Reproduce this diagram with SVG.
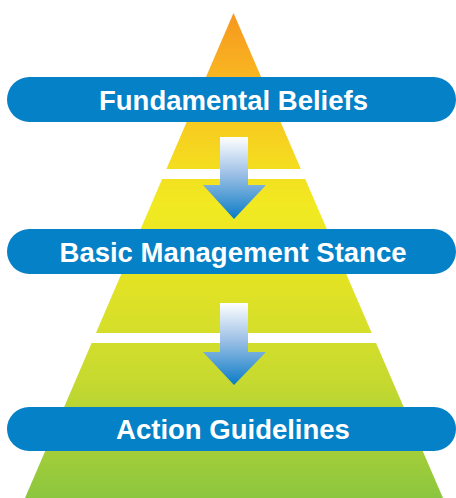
<svg xmlns="http://www.w3.org/2000/svg" width="456" height="498" viewBox="0 0 456 498">
  <defs>
    <linearGradient id="pyr" gradientUnits="userSpaceOnUse" x1="0" y1="13" x2="0" y2="498">
      <stop offset="0" stop-color="#F6961F"/>
      <stop offset="0.14" stop-color="#F9B921"/>
      <stop offset="0.3" stop-color="#F5DA1F"/>
      <stop offset="0.4" stop-color="#F1EA22"/>
      <stop offset="0.55" stop-color="#E3E324"/>
      <stop offset="0.75" stop-color="#C8DA2F"/>
      <stop offset="1" stop-color="#8CC63F"/>
    </linearGradient>
    <linearGradient id="arr" x1="0" y1="0" x2="0" y2="1">
      <stop offset="0" stop-color="#FFFFFF"/>
      <stop offset="0.45" stop-color="#9DC0E6"/>
      <stop offset="1" stop-color="#0A7CC6"/>
    </linearGradient>
  </defs>
  <style>
    .bar { fill: #0581C7; }
    .lbl { font-family: "Liberation Sans", Arial, sans-serif; font-weight: bold; font-size: 27.5px; fill: #FFFFFF; text-anchor: middle; }
    .arrow { fill: url(#arr); }
  </style>
  <rect x="0" y="0" width="456" height="498" fill="#FFFFFF"/>
  <g id="pyramid">
    <polygon points="233.5,13 443,498 25,498" fill="url(#pyr)"/>
    <rect x="0" y="169" width="456" height="10" fill="#FFFFFF"/>
    <rect x="0" y="333" width="456" height="10" fill="#FFFFFF"/>
  </g>
  <g id="connectors">
    <polygon class="arrow" points="220,137 248,137 248,185 266,185 234,219 203,185 220,185"/>
    <polygon class="arrow" points="220,303 248,303 248,352 266,352 234,385 203,352 220,352"/>
  </g>
  <g id="node-fundamental-beliefs">
    <rect class="bar" x="7" y="77" width="449" height="45" rx="22.5"/>
    <text class="lbl" x="233.5" y="109.5">Fundamental Beliefs</text>
  </g>
  <g id="node-basic-management-stance">
    <rect class="bar" x="7" y="229" width="449" height="45" rx="22.5"/>
    <text class="lbl" x="233" y="261.5">Basic Management Stance</text>
  </g>
  <g id="node-action-guidelines">
    <rect class="bar" x="7" y="407" width="449" height="44" rx="22"/>
    <text class="lbl" x="233" y="439">Action Guidelines</text>
  </g>
</svg>
